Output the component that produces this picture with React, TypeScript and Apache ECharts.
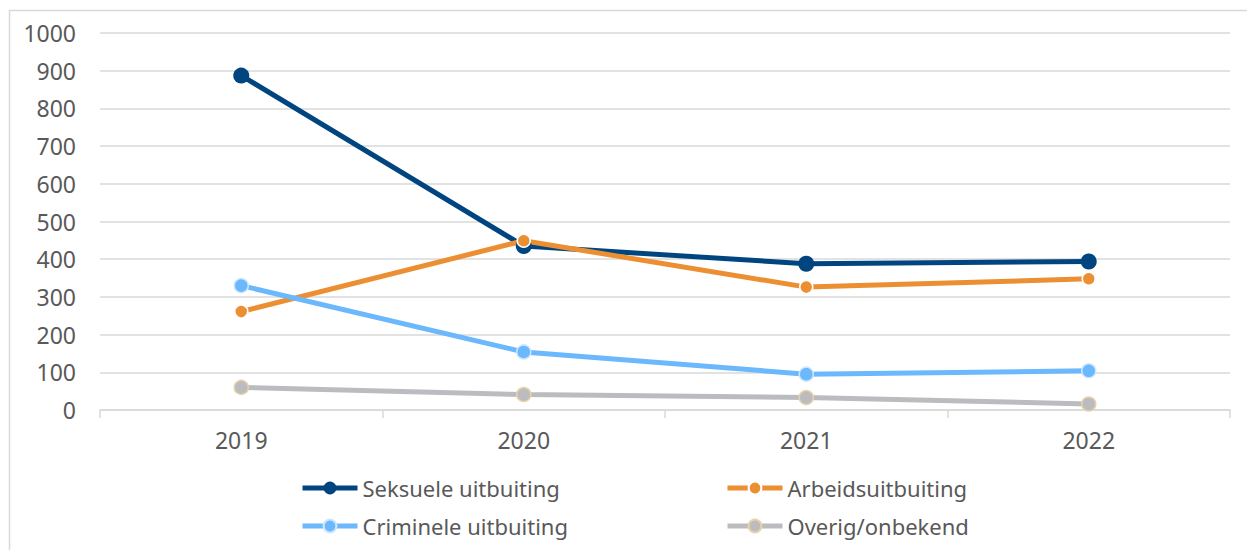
import React, { useEffect, useRef } from "react";
import * as echarts from "echarts";

const years = ["2019", "2020", "2021", "2022"];
const seksuele = [887, 435, 388, 394];
const arbeid = [261, 449, 326, 348];
const criminele = [330, 154, 95, 104];
const overig = [60, 41, 33, 16];
const yTicks = { min: 0, max: 1000, interval: 100 };

const FONT = "'Noto Sans', sans-serif";
const GREY_TXT = "#595959";
const GRID = "#d9d9d9";

export default function App() {
  const ref = useRef<HTMLDivElement>(null);
  useEffect(() => {
    if (!ref.current) return;
    const chart = echarts.init(ref.current, undefined, { renderer: "svg" });
    const lineSeries = (name: string, data: number[], color: string, size: number, border: string, bw: number) => ({
      type: "line",
      name,
      data,
      symbol: "circle",
      symbolSize: size,
      lineStyle: { color, width: 5 },
      itemStyle: { color, borderColor: border, borderWidth: bw },
      emphasis: { disabled: true },
    });
    const legendBase = {
      orient: "vertical",
      top: 477,
      padding: 0,
      itemWidth: 55,
      itemHeight: 16,
      itemGap: 16,
      lineStyle: { width: 5 },
      textStyle: { color: GREY_TXT, fontSize: 22, fontFamily: FONT, lineHeight: 22 },
    };
    chart.setOption({
      animation: false,
      textStyle: { fontFamily: FONT },
      grid: { left: 100, right: 17, top: 33, bottom: 140 },
      graphic: [
        {
          type: "rect",
          shape: { x: 9.5, y: 10.5, width: 1300, height: 600 },
          style: { fill: "none", stroke: GRID, lineWidth: 1.5 },
          silent: true,
        },
      ],
      xAxis: {
        type: "category",
        data: years,
        boundaryGap: true,
        axisLine: { lineStyle: { color: GRID, width: 1.5 } },
        axisTick: { show: true, length: 8, lineStyle: { color: GRID, width: 1.5 } },
        axisLabel: { color: GREY_TXT, fontSize: 23, fontFamily: FONT, margin: 18 },
      },
      yAxis: {
        type: "value",
        min: yTicks.min,
        max: yTicks.max,
        interval: yTicks.interval,
        axisLine: { show: false },
        axisTick: { show: false },
        splitLine: { lineStyle: { color: GRID, width: 1.5 } },
        axisLabel: {
          color: GREY_TXT,
          fontSize: 23,
          fontFamily: FONT,
          margin: 24,
          formatter: (v: number) => String(v),
        },
      },
      legend: [
        { ...legendBase, data: ["Seksuele uitbuiting", "Criminele uitbuiting"], left: 300 },
        { ...legendBase, data: ["Arbeidsuitbuiting", "Overig/onbekend"], left: 725 },
      ],
      series: [
        lineSeries("Seksuele uitbuiting", seksuele, "#00457f", 16, "#00457f", 0),
        lineSeries("Arbeidsuitbuiting", arbeid, "#ec8f33", 13, "#ffffff", 1.5),
        lineSeries("Criminele uitbuiting", criminele, "#6bb8fd", 14, "#cfe7fe", 1.5),
        lineSeries("Overig/onbekend", overig, "#bcbcc0", 14, "#e6d3a8", 1.5),
      ],
    });
    return () => chart.dispose();
  }, []);
  return (
    <div
      ref={ref}
      style={{ position: "fixed", left: 0, top: 0, width: 1247, height: 550, background: "#ffffff" }}
    />
  );
}
